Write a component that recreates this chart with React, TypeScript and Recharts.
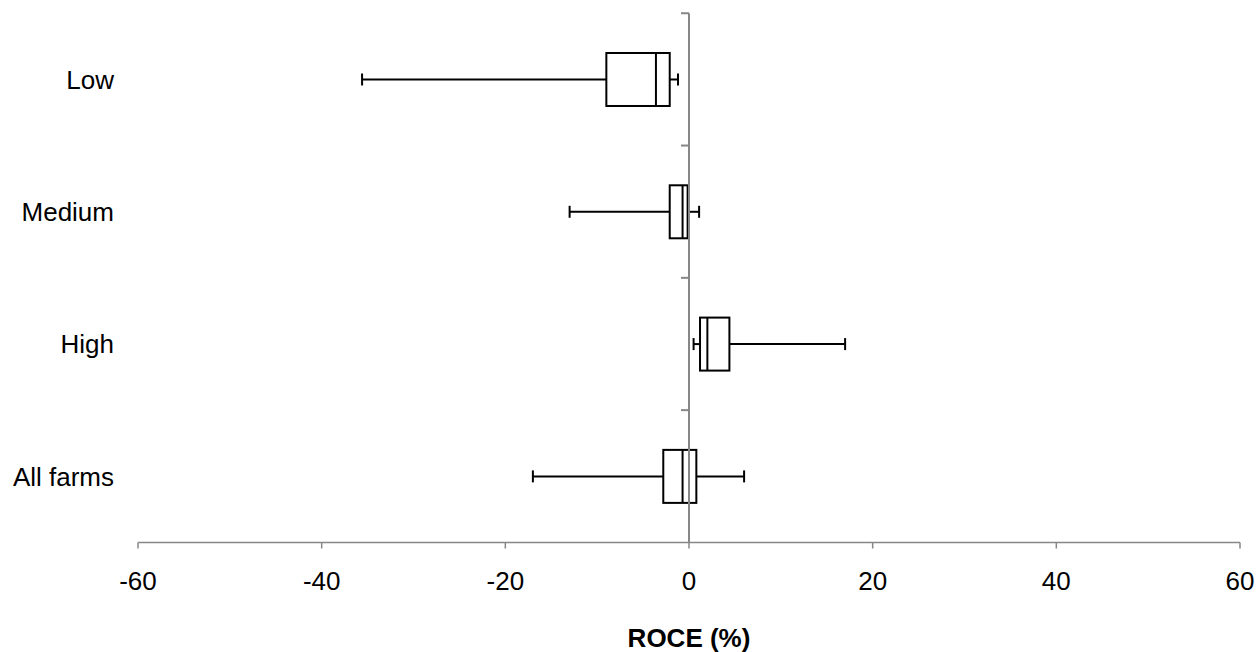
import React from "react";
import { ComposedChart, Bar, XAxis, YAxis, ReferenceLine } from "recharts";

const CATEGORIES = ["Low", "Medium", "High", "All farms"];
const MIN_VALUES = [-35.6, -13.0, 0.5, -17.0];
const Q1_VALUES = [-9.0, -2.1, 1.2, -2.8];
const MEDIAN_VALUES = [-3.6, -0.7, 2.0, -0.7];
const Q3_VALUES = [-2.1, -0.15, 4.4, 0.8];
const MAX_VALUES = [-1.2, 1.1, 17.0, 6.0];
const X_TICKS = [-60, -40, -20, 0, 20, 40, 60];

const AXIS_GRAY = "#878787";
const FONT = "'Liberation Sans', Arial, sans-serif";
const FONT_SIZE = 26;
const GAP = 0.3; // barCategoryGap as a fraction of the band

const data = CATEGORIES.map((name, i) => ({
  name,
  min: MIN_VALUES[i],
  q1: Q1_VALUES[i],
  median: MEDIAN_VALUES[i],
  q3: Q3_VALUES[i],
  max: MAX_VALUES[i],
  range: [MIN_VALUES[i], MAX_VALUES[i]],
}));

// bar spans min..max through the x scale; the other marks are placed along it
const BoxShape = (props: any) => {
  const { x, y, width, height, payload } = props;
  const { min, q1, median, q3, max } = payload;
  const left = Math.min(x, x + width);
  const span = Math.abs(width);
  const px = (v: number) => left + ((v - min) / (max - min)) * span;
  const cy = y + height / 2;
  const cap = 6;
  // top of the category band, from the bar size and the category gap
  const bandTop = y - (height * GAP) / (1 - 2 * GAP);
  return (
    <g>
      <line
        x1={px(0) - 8}
        x2={px(0)}
        y1={bandTop}
        y2={bandTop}
        stroke={AXIS_GRAY}
        strokeWidth={2}
      />
      <g stroke="#000" strokeWidth={2} fill="none">
        <line x1={px(min)} x2={px(q1)} y1={cy} y2={cy} />
        <line x1={px(q3)} x2={px(max)} y1={cy} y2={cy} />
        <line x1={px(min)} x2={px(min)} y1={cy - cap} y2={cy + cap} />
        <line x1={px(max)} x2={px(max)} y1={cy - cap} y2={cy + cap} />
        <rect x={px(q1)} y={y} width={px(q3) - px(q1)} height={height} />
        <line x1={px(median)} x2={px(median)} y1={y} y2={y + height} />
      </g>
    </g>
  );
};

export default function App() {
  return (
    <div style={{ position: "absolute", left: 0, top: 0 }}>
      <ComposedChart
        width={1258}
        height={652}
        data={data}
        layout="vertical"
        barCategoryGap={`${GAP * 100}%`}
        margin={{ top: 13.3, right: 18, bottom: 0, left: 0 }}
      >
        <XAxis
          type="number"
          domain={[-60, 60]}
          ticks={X_TICKS}
          interval={0}
          height={109.5}
          stroke={AXIS_GRAY}
          strokeWidth={1.5}
          tickSize={6}
          tickMargin={23}
          tick={{ fill: "#000", fontSize: FONT_SIZE, fontFamily: FONT }}
          label={{
            value: "ROCE (%)",
            position: "insideBottom",
            offset: 5,
            fill: "#000",
            fontSize: FONT_SIZE,
            fontWeight: "bold",
            fontFamily: FONT,
          }}
        />
        <YAxis
          type="category"
          dataKey="name"
          width={138}
          axisLine={false}
          tickLine={false}
          tickSize={0}
          tickMargin={24}
          tick={{ fill: "#000", fontSize: FONT_SIZE, fontFamily: FONT }}
        />
        <Bar dataKey="range" shape={<BoxShape />} isAnimationActive={false} />
        <ReferenceLine x={0} stroke={AXIS_GRAY} strokeWidth={2} />
      </ComposedChart>
    </div>
  );
}
